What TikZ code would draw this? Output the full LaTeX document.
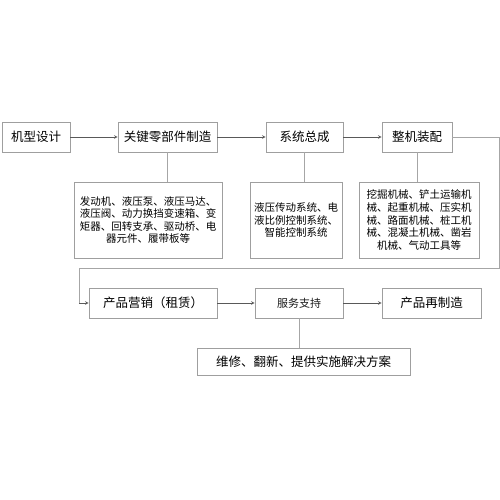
\documentclass[tikz,border=0pt]{standalone}
\usepackage{fontspec}
\newfontfamily\cjk{Noto Sans CJK SC}
\usetikzlibrary{arrows,positioning,calc}

\begin{document}
\begin{tikzpicture}[
    x=1pt, y=-1pt,
    font=\cjk,
    stage/.style={rectangle, draw=gray!75, fill=white, minimum height=30pt, inner sep=0pt, font=\cjk\fontsize{12.5}{14}\selectfont, line width=0.7pt},
    info/.style={rectangle, draw=gray!75, fill=white, minimum height=76pt, inner sep=0pt, align=center, font=\cjk\fontsize{10.5}{12.6}\selectfont, line width=0.7pt},
    arrow/.style={->, >=stealth, line width=0.6pt, color=gray!70!black},
    link/.style={line width=0.6pt, color=gray!70}
]
\useasboundingbox (0,0) rectangle (500,500);

% === TOP ROW ===
\node[stage, minimum width=68pt] (design) at (36,137) {机型设计};
\node[stage, minimum width=99pt] (parts) at (167.5,137) {关键零部件制造};
\node[stage, minimum width=77pt] (system) at (304.5,137) {系统总成};
\node[stage, minimum width=70pt] (machine) at (417,137) {整机装配};

% === DETAILS ===
\node[info, minimum width=148pt] (partsinfo) at (148,220) {发动机、液压泵、液压马达、\\液压阀、动力换挡变速箱、变\\矩器、回转支承、驱动桥、电\\器元件、履带板等};
\node[info, minimum width=92pt] (sysinfo) at (296,220) {液压传动系统、电\\液比例控制系统、\\智能控制系统};
\node[info, minimum width=120pt] (machinfo) at (419,220) {挖掘机械、铲土运输机\\械、起重机械、压实机\\械、路面机械、桩工机\\械、混凝土机械、凿岩\\机械、气动工具等};

% === BOTTOM ROW ===
\node[stage, minimum width=128pt] (sales) at (153,303) {产品营销（租赁）};
\node[stage, minimum width=88pt, font=\cjk\fontsize{11}{13}\selectfont, text=gray!20!black] (service) at (299,303) {服务支持};
\node[stage, minimum width=99pt] (reman) at (431.5,303) {产品再制造};
\node[stage, minimum width=213pt, minimum height=27pt] (repair) at (303.5,361.5) {维修、翻新、提供实施解决方案};

% === CONNECTIONS ===
\draw[arrow] (design) -- (parts);
\draw[arrow] (parts) -- (system);
\draw[arrow] (system) -- (machine);

\draw[link] (parts.south) -- (parts.south |- partsinfo.north);
\draw[link] (system.south) -- (system.south |- sysinfo.north);
\draw[link] (machine.south) -- (machine.south |- machinfo.north);

% loop back to second row
\coordinate (turnA) at (499,137);
\coordinate (turnB) at (499,268);
\coordinate (turnC) at (79,268);
\draw[link] (machine.east) -- (turnA) -- (turnB) -- (turnC) -- (turnC |- sales.west);
\draw[arrow] (turnC |- sales.west) -- (sales.west);

\draw[arrow] (sales) -- (service);
\draw[arrow] (service) -- (reman);
\draw[link] (service.south) -- (service.south |- repair.north);

\end{tikzpicture}
\end{document}
